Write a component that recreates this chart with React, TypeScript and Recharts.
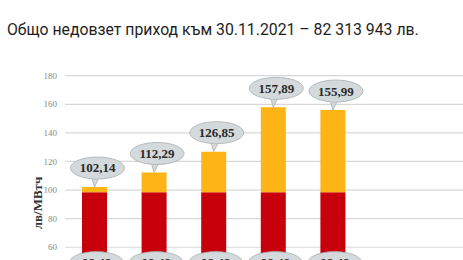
import React from 'react';
import { BarChart, Bar, XAxis, YAxis, CartesianGrid, LabelList, Label } from 'recharts';

const categories = ['1', '2', '3', '4', '5'];
const baseValues = [98.48, 98.48, 98.48, 98.48, 98.48];
const totalValues = [102.14, 112.29, 126.85, 157.89, 155.99];
const yTicks = [0, 20, 40, 60, 80, 100, 120, 140, 160, 180];
const title = 'Общо недовзет приход към 30.11.2021 – 82 313 943 лв.';
const yLabel = 'лв/МВтч';

const data = categories.map((c, i) => ({
  name: c,
  base: baseValues[i],
  extra: +(totalValues[i] - baseValues[i]).toFixed(2),
  total: totalValues[i],
}));

const fmt = (v: number) => v.toFixed(2).replace('.', ',');

const Bubble = ({ cx, cy, text, tipX, tipY }: { cx: number; cy: number; text: string; tipX?: number; tipY?: number }) => {
  const rx = 27;
  const ry = 11;
  return (
    <g>
      {tipY !== undefined && tipX !== undefined && (
        <path
          d={`M${tipX - 3},${cy + ry - 2} L${tipX},${tipY} L${tipX + 5},${cy + ry - 2} Z`}
          fill="#d4d9db"
          stroke="#aab0b3"
          strokeWidth={0.8}
        />
      )}
      <ellipse cx={cx} cy={cy} rx={rx} ry={ry} fill="#d4d9db" stroke="#aab0b3" strokeWidth={0.8} />
      {tipY !== undefined && tipX !== undefined && (
        <path d={`M${tipX - 2.5},${cy + ry - 1.5} L${tipX + 4.5},${cy + ry - 1.5}`} stroke="#d4d9db" strokeWidth={2} />
      )}
      <text
        x={cx}
        y={cy + 4.5}
        textAnchor="middle"
        fontFamily="Liberation Serif, serif"
        fontWeight="bold"
        fontSize={13}
        fill="#2a2a2a"
      >
        {text}
      </text>
    </g>
  );
};

const TopLabel = (props: any) => {
  const { x, y, width, value } = props;
  const bx = x + width / 2;
  return <Bubble cx={bx + 3} cy={y - 19} text={fmt(value)} tipX={bx} tipY={y} />;
};

const MidLabel = (props: any) => {
  const { x, y, width, height, value } = props;
  return <Bubble cx={x + width / 2 + 2} cy={y + height / 2} text={fmt(value)} />;
};

const YLabel = () => {
  const cy = 203;
  const cx = 37;
  return (
    <text
      x={cx}
      y={cy}
      transform={`rotate(-90 ${cx} ${cy})`}
      textAnchor="middle"
      dominantBaseline="central"
      fontFamily="Liberation Serif, serif"
      fontWeight="bold"
      fontSize={13}
      fill="#333"
    >
      {yLabel}
    </text>
  );
};

export default function App() {
  return (
    <div style={{ position: 'absolute', left: 0, top: 0, width: 463, height: 260, overflow: 'hidden', background: '#fff' }}>
      <div
        style={{
          position: 'absolute',
          left: 7,
          top: 22,
          fontFamily: 'Roboto, sans-serif',
          fontSize: 15.8,
          lineHeight: '16px',
          color: '#1e1e1e',
          whiteSpace: 'nowrap',
        }}
      >
        {title}
      </div>
      <div style={{ position: 'absolute', left: 0, top: 0 }}>
        <BarChart width={463} height={340} data={data} margin={{ top: 75.7, right: 0, bottom: 7, left: 0 }} barSize={25}>
          <CartesianGrid vertical={false} stroke="#d8d8d8" strokeWidth={1.2} />
          <XAxis dataKey="name" hide padding={{ left: 0, right: 100 }} />
          <YAxis
            width={65}
            domain={[0, 180]}
            ticks={yTicks}
            interval={0}
            axisLine={false}
            tickLine={false}
            tick={{ fontFamily: 'Liberation Serif, serif', fontSize: 9, fill: '#888' }}
          >
            <Label content={<YLabel />} />
          </YAxis>
          <Bar dataKey="base" stackId="a" fill="#c8000c" isAnimationActive={false}>
            <LabelList dataKey="base" content={<MidLabel />} />
          </Bar>
          <Bar dataKey="extra" stackId="a" fill="#fcb514" isAnimationActive={false}>
            <LabelList dataKey="total" content={<TopLabel />} />
          </Bar>
        </BarChart>
      </div>
    </div>
  );
}
